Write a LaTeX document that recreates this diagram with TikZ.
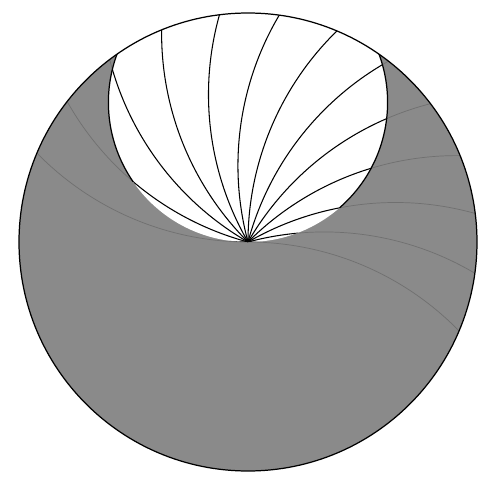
\documentclass[tikz,border=0pt]{standalone}
\usepackage{tikz}

\begin{document}
\begin{tikzpicture}[x=0.02cm, y=0.02cm,
  outline/.style={draw=black, line width=0.7pt},
  shadefill/.style={fill=black!46},
  fanarc/.style={draw=black, line width=0.6pt},
  faintarc/.style={draw=black!56, line width=0.4pt}
]
\useasboundingbox (-248,-242) rectangle (243,242);
\coordinate (O) at (0,0);
\coordinate (W) at (0,139.6);

\fill[shadefill] (O) circle[radius=229];
\begin{scope}
  \clip (O) circle[radius=229];
  \foreach \a in {90,75,...,-90}
    \draw[faintarc, rotate=\a] (0,0) arc[start angle=180, end angle=134.33, radius=295];
  \fill[white] (W) circle[radius=139.6];
  \clip (W) circle[radius=139.6];
  \foreach \a in {90,75,...,-90}
    \draw[fanarc, rotate=\a] (0,0) arc[start angle=180, end angle=134.33, radius=295];
\end{scope}
\begin{scope}
  \clip (O) circle[radius=229];
  \draw[outline] (W) ++(-49:139.6) arc[start angle=-49, end angle=214.6, radius=139.6];
\end{scope}
\draw[outline] (O) circle[radius=229];

\end{tikzpicture}
\end{document}
